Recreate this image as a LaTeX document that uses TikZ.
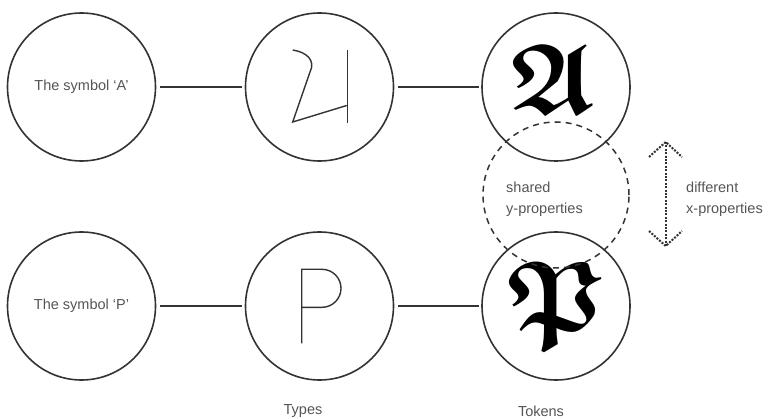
\documentclass[tikz,border=0pt]{standalone}
\usepackage{amsmath,amssymb}
\usepackage{graphicx}
\usepackage{fontspec}
\setmainfont{Liberation Sans}
\definecolor{ink}{HTML}{333333}
\definecolor{txt}{HTML}{555555}
\begin{document}
\begin{tikzpicture}[x=1pt,y=-1pt,
  ring/.style={circle,draw=ink,line width=1.6pt,minimum size=148pt,inner sep=0pt},
  link/.style={draw=ink,line width=1.6pt,shorten <=4pt,shorten >=2.5pt},
  lbl/.style={text=txt,font=\fontsize{14.5}{21}\selectfont,inner sep=0pt,align=left},
  glyph/.style={draw=ink,line width=1.4pt},
  tok/.style={inner sep=0pt},
  dots/.style={draw=ink,line width=2pt,dash pattern=on 2pt off 1.4pt}]
\useasboundingbox (0,0) rectangle (770,419);
\node[ring] (s1) at (81.5,87) {};
\node[ring] (t1) at (319.5,87) {};
\node[ring] (k1) at (556,87) {};
\node[ring] (s2) at (81.5,306) {};
\node[ring] (t2) at (319.5,306) {};
\node[ring] (k2) at (556,306) {};
\node[lbl] (ls1) at (s1) {The symbol ‘A’};
\node[lbl] (ls2) at (s2) {The symbol ‘P’};
\draw[link] (s1) -- (t1);
\draw[link] (t1) -- (k1);
\draw[link] (s2) -- (t2);
\draw[link] (t2) -- (k2);
% type glyphs
\draw[glyph] (292.7,50) .. controls (306,52) and (316,60) .. (310,72) -- (292.7,122) -- (346.7,105.5);
\draw[glyph] (347.5,50) -- (347.5,123);
\draw[glyph] (301.7,343.3) -- (301.7,269.3) -- (322,269.3) arc (-90:90:19) -- (301.7,307.3);
% tokens
\node[tok] (ga) at (553,79) {\scalebox{10}{$\boldsymbol{\mathfrak{A}}$}};
\node[tok] (gp) at (556,305) {\scalebox{10}{$\boldsymbol{\mathfrak{P}}$}};
% shared
\node[circle,draw=ink,line width=1.5pt,dash pattern=on 6pt off 5pt,minimum size=146pt,inner sep=0pt] (sh) at (556,195) {};
\node[lbl,anchor=west] (shl) at (506,199) {shared\\y-properties};
% arrow
\coordinate (up) at (665.7,142);
\coordinate (dn) at (665.7,246);
\coordinate (ul) at (649,157);
\coordinate (ur) at (682,157);
\coordinate (dl) at (649,231);
\coordinate (dr) at (682,231);
\draw[dots] (up) -- (dn);
\draw[dots] (ul) -- (up) -- (ur);
\draw[dots] (dl) -- (dn) -- (dr);
\node[lbl,anchor=west] (dx) at (686,199) {different\\x-properties};
\node[lbl] (ty) at (303,411) {Types};
\node[lbl] (tk) at (541,411) {Tokens};
\end{tikzpicture}
\end{document}
